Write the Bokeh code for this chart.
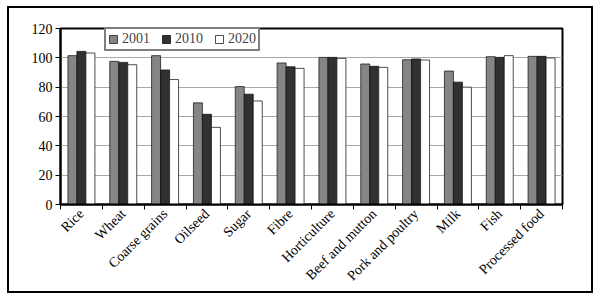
import math
from bokeh.plotting import figure
from bokeh.models import ColumnDataSource, FixedTicker, Range1d
from bokeh.transform import dodge
from bokeh.embed import file_html
from bokeh.resources import INLINE

categories = ["Rice", "Wheat", "Coarse grains", "Oilseed", "Sugar", "Fibre",
              "Horticulture", "Beef and mutton", "Pork and poultry", "Milk",
              "Fish", "Processed food"]
v2001 = [101.5, 97.6, 101.5, 69.3, 80.4, 96.5, 100.3, 95.8, 98.7, 91.0, 100.8, 101.0]
v2010 = [104.4, 96.9, 91.7, 61.5, 75.2, 93.9, 100.3, 94.2, 99.2, 83.4, 100.3, 101.0]
v2020 = [103.3, 95.3, 85.2, 52.6, 70.6, 92.8, 99.6, 93.5, 98.5, 80.0, 101.5, 99.9]
y_ticks = [0, 20, 40, 60, 80, 100, 120]

pos = list(range(1, len(categories) + 1))
src = ColumnDataSource(dict(x=pos, a=v2001, b=v2010, c=v2020))

FONT = "Liberation Serif"

p = figure(frame_width=502, frame_height=176, output_backend="svg", toolbar_location=None,
           x_range=Range1d(0.5, len(categories) + 0.5), y_range=Range1d(0, 120),
           min_border_left=51, min_border_right=29, min_border_top=20, min_border_bottom=87)
p.styles = {"border": "2px solid black", "box-sizing": "content-box",
            "margin-left": "7px", "margin-top": "6px"}

bw = 0.215
p.vbar(x=dodge("x", -bw, range=p.x_range), top="a", width=bw, source=src,
       fill_color="#858585", line_color="#222222", line_width=0.8, legend_label="2001")
p.vbar(x=dodge("x", 0, range=p.x_range), top="b", width=bw, source=src,
       fill_color="#313131", line_color="#111111", line_width=0.8, legend_label="2010")
p.vbar(x=dodge("x", bw, range=p.x_range), top="c", width=bw, source=src,
       fill_color="#ffffff", line_color="#222222", line_width=0.8, legend_label="2020")

p.outline_line_color = "black"
p.outline_line_width = 2
p.background_fill_color = "white"

# x axis
p.xaxis.ticker = FixedTicker(ticks=pos, minor_ticks=[i + 0.5 for i in range(0, len(categories) + 1)])
p.xaxis.major_label_overrides = {i: c for i, c in zip(pos, categories)}
p.xaxis.major_label_orientation = math.pi / 4
p.xaxis.major_tick_out = 0
p.xaxis.major_tick_in = 0
p.xaxis.minor_tick_out = 5
p.xaxis.minor_tick_in = 0
p.xaxis.minor_tick_line_color = "black"
p.xaxis.axis_line_width = 2
p.xaxis.major_label_text_font = FONT
p.xaxis.major_label_text_font_size = "14px"
p.xaxis.major_label_text_color = "black"
p.xaxis.major_label_standoff = 2
p.xgrid.grid_line_color = None

# y axis
p.yaxis.ticker = FixedTicker(ticks=y_ticks)
p.yaxis.axis_line_width = 2
p.yaxis.major_tick_out = 5
p.yaxis.major_tick_in = 0
p.yaxis.minor_tick_line_color = None
p.yaxis.major_label_text_font = FONT
p.yaxis.major_label_text_font_size = "14px"
p.yaxis.major_label_text_color = "black"
p.yaxis.major_label_standoff = 3
p.ygrid.grid_line_color = "#a8a8a8"
p.ygrid.grid_line_width = 1

# legend
lg = p.legend[0]
lg.orientation = "horizontal"
lg.location = (44, 153)
lg.border_line_color = "black"
lg.border_line_width = 2
lg.background_fill_alpha = 1
lg.label_text_font = FONT
lg.label_text_font_size = "14px"
lg.glyph_width = 10
lg.glyph_height = 10
lg.label_standoff = 4
lg.spacing = 11
lg.padding = 2
lg.margin = 0
lg.label_height = 12

open("out.html", "w").write(file_html(p, INLINE))
